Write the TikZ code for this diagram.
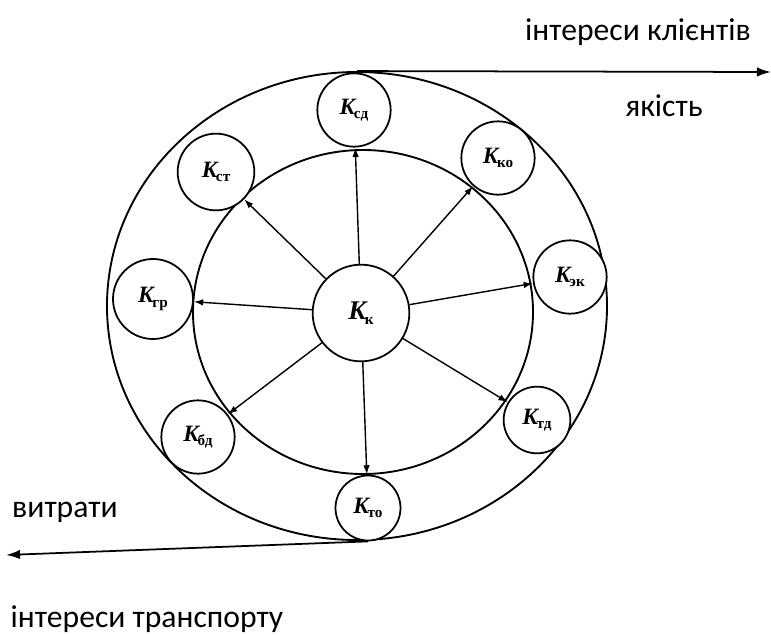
\documentclass[tikz,border=0pt]{standalone}
\usepackage{fontspec}
\setmainfont{Carlito}
\newfontfamily\kfont{Liberation Serif}
\usetikzlibrary{arrows.meta,shapes.geometric}
\newcommand{\kind}[1]{{\kfont\bfseries\itshape K}\kern-0.06em\raisebox{-0.4ex}{\kfont\bfseries\fontsize{13}{13}\selectfont #1}}

\begin{document}
\begin{tikzpicture}[x=0.03cm, y=-0.03cm,
  ring/.style={draw, ellipse, line width=1.6pt, inner sep=0pt},
  kcirc/.style={draw, circle, fill=white, line width=1.5pt, minimum size=2.2cm, inner sep=0pt, font=\fontsize{20}{20}\selectfont},
  spoke/.style={-{Latex[length=8pt,width=5.5pt]}, line width=1.2pt},
  axis/.style={-{Latex[length=12pt,width=8pt]}, line width=1.5pt},
  lbl/.style={font=\fontsize{27}{32}\selectfont}
]
\useasboundingbox (0,0) rectangle (771,635);

\node[ring, minimum width=15cm, minimum height=14.04cm] (outer) at (357,306) {};
\node[ring, minimum width=10.2cm, minimum height=9.72cm] (inner) at (363,312) {};

\node[kcirc, minimum size=2.9cm, font=\fontsize{23}{23}\selectfont] (kk) at (361,313) {\kind{к}};
\node[kcirc] (ksd) at (354,110) {\kind{сд}};
\node[kcirc, minimum size=2.3cm] (kst) at (216,172) {\kind{ст}};
\node[kcirc] (kko) at (498,158) {\kind{ко}};
\node[kcirc, minimum size=2.4cm] (kgr) at (153,299) {\kind{гр}};
\node[kcirc] (kek) at (570,277) {\kind{эк}};
\node[kcirc] (kbd) at (198,437) {\kind{бд}};
\node[kcirc, minimum size=2cm] (ktd) at (537,420) {\kind{тд}};
\node[kcirc, minimum size=1.95cm] (kto) at (368,508) {\kind{то}};

\draw[spoke] (kk) -- (ksd);
\draw[spoke] (kk) -- (kko);
\draw[spoke] (kk) -- (kek);
\draw[spoke] (kk) -- (ktd);
\draw[spoke] (kk) -- (kto);
\draw[spoke] (kk) -- (kbd);
\draw[spoke] (kk) -- (kgr);
\draw[spoke] (kk) -- (kst);

\node[lbl] (clients) at (638,32) {інтереси клієнтів};
\node[lbl] (quality) at (664,106) {якість};
\node[lbl] (costs) at (65,512) {витрати};
\node[lbl] (transport) at (147,619) {інтереси транспорту};

\coordinate (clientend) at (771,72);
\coordinate (costend) at (6,555);
\draw[axis] (outer.north) -- (clientend);
\draw[axis] (kto.south) -- (costend);
\end{tikzpicture}
\end{document}
